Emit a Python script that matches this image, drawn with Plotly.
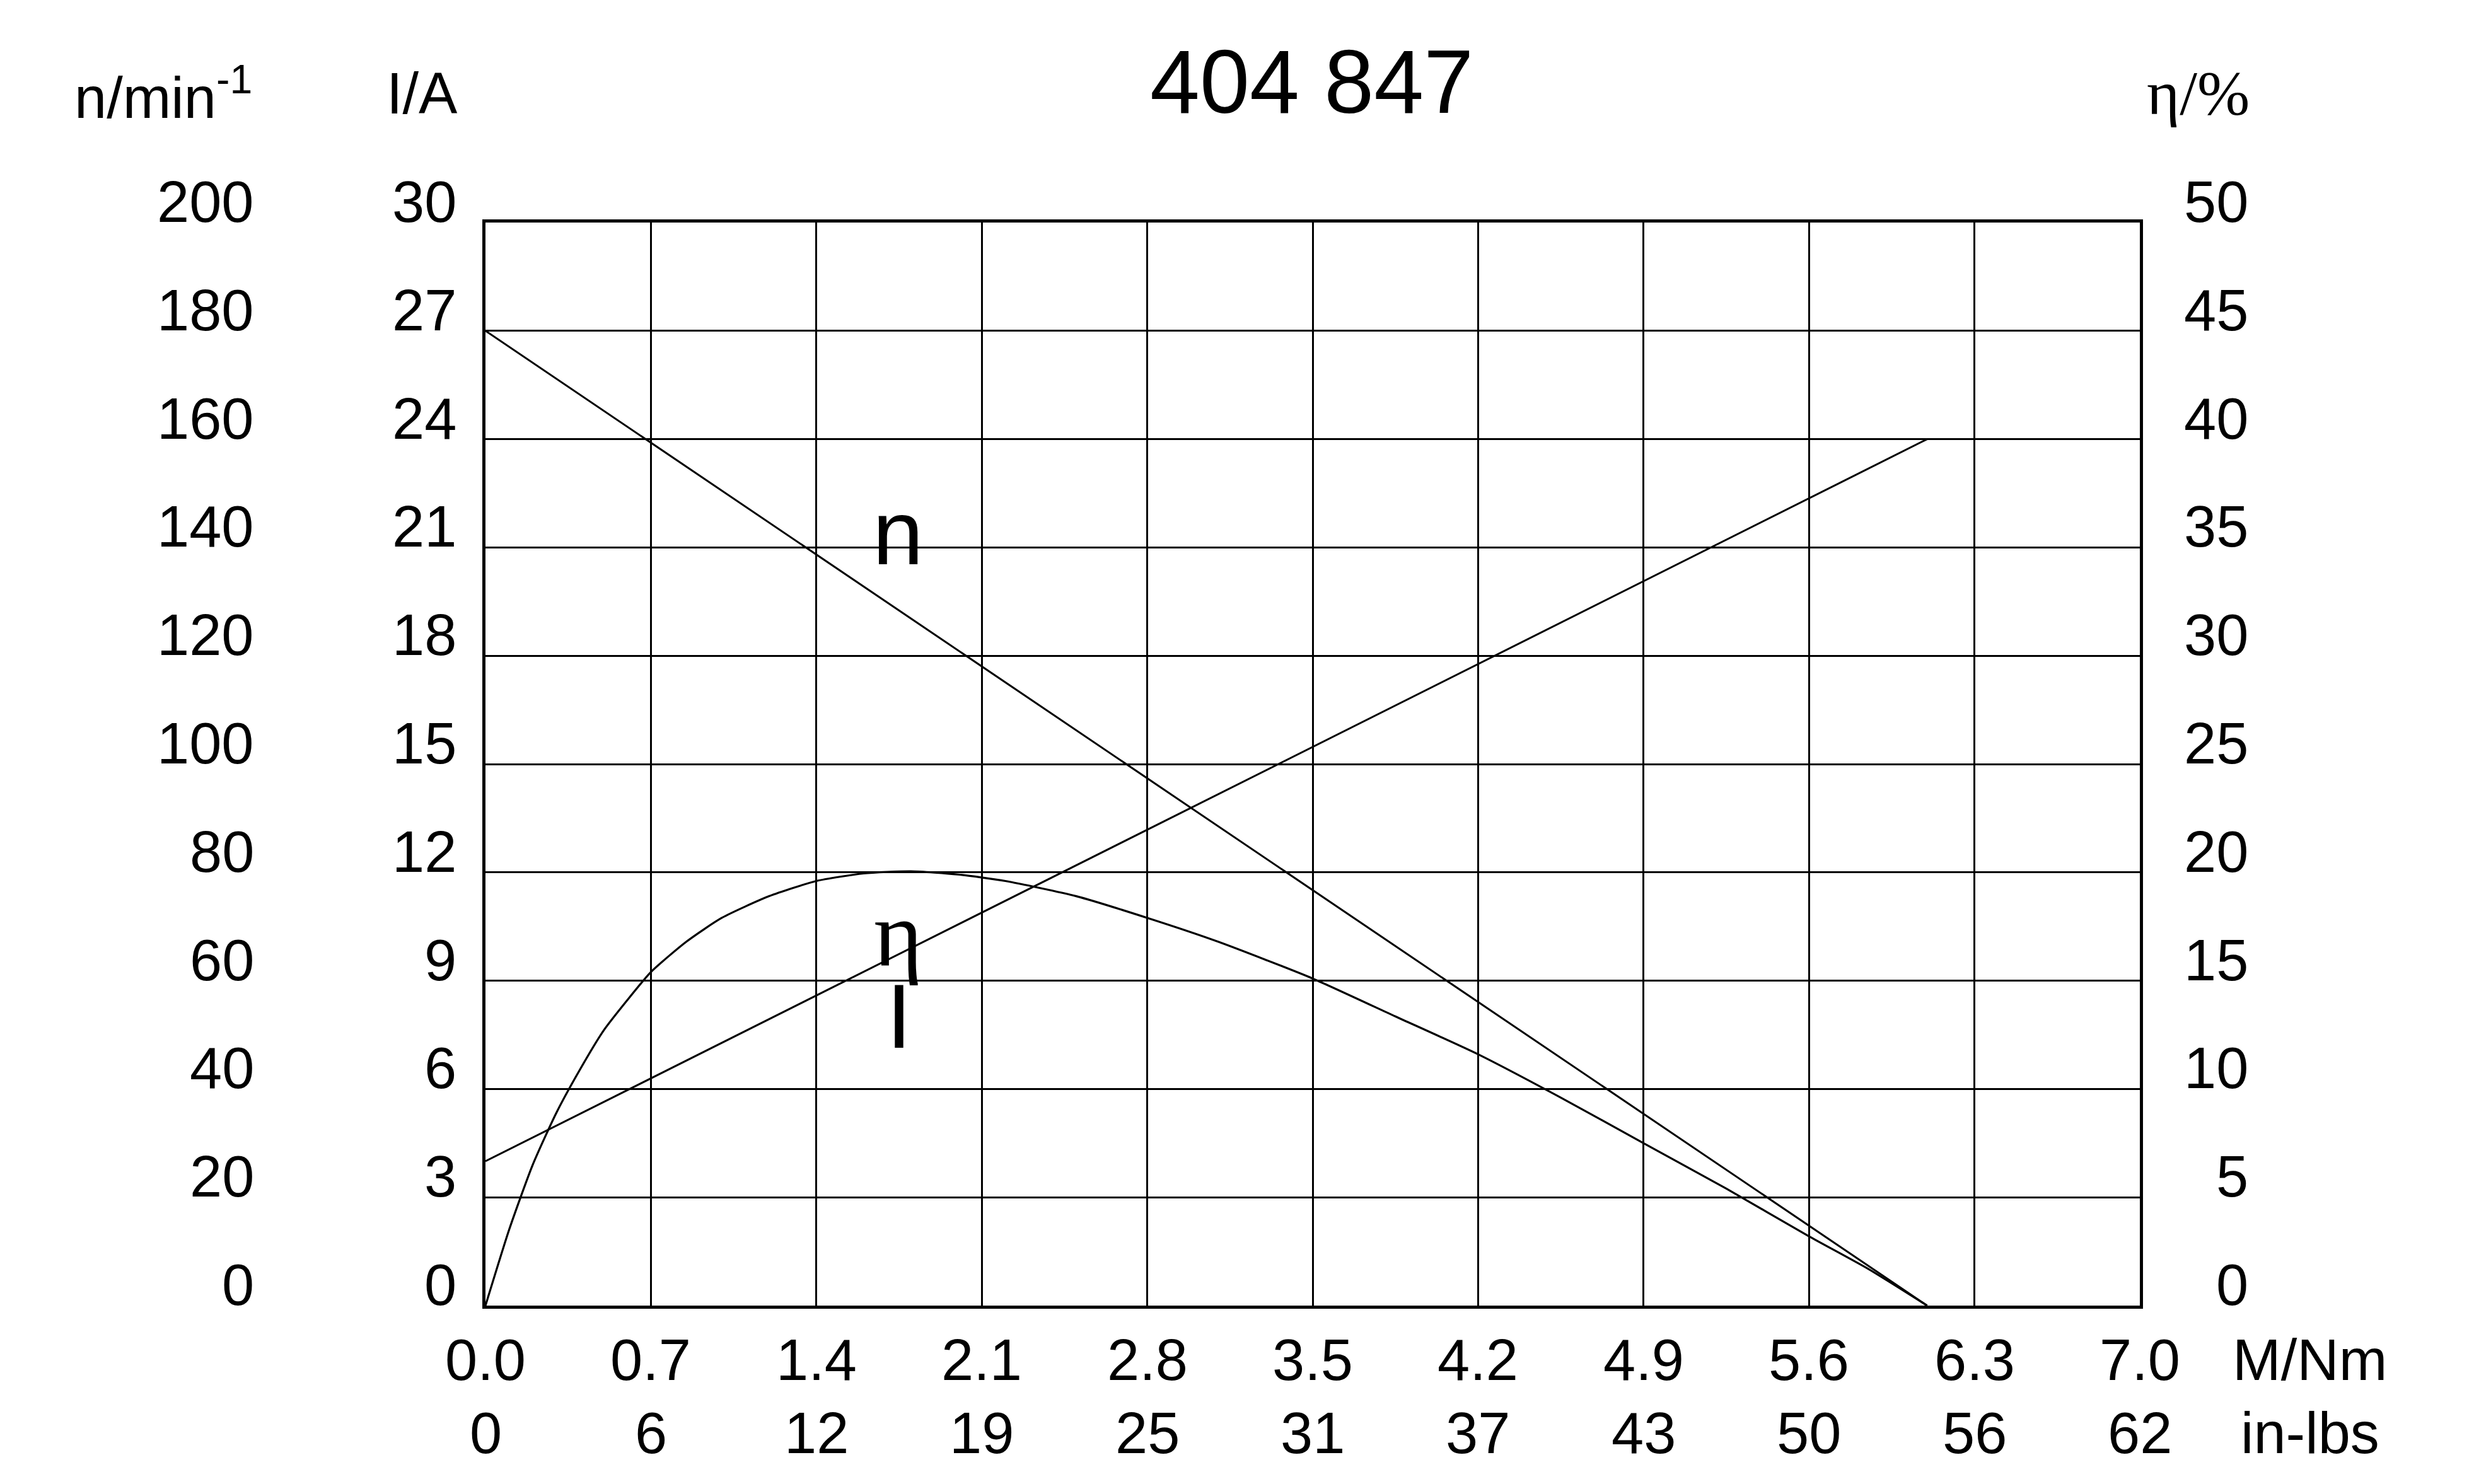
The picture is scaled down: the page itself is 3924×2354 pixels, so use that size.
import plotly.graph_objects as go

# ---- data ----
title_text = "404 847"
torque_ticks = [0.0, 0.7, 1.4, 2.1, 2.8, 3.5, 4.2, 4.9, 5.6, 6.3, 7.0]
torque_tick_labels = ["0.0", "0.7", "1.4", "2.1", "2.8", "3.5", "4.2", "4.9", "5.6", "6.3", "7.0"]
inlbs_tick_labels = ["0", "6", "12", "19", "25", "31", "37", "43", "50", "56", "62"]
speed_ticks = [0, 20, 40, 60, 80, 100, 120, 140, 160, 180, 200]
current_ticks = [0, 3, 6, 9, 12, 15, 18, 21, 24, 27, 30]
eff_ticks = [0, 5, 10, 15, 20, 25, 30, 35, 40, 45, 50]

# speed n (1/min) vs torque
n_torque = [0.0, 6.1]
n_speed = [180, 0]
# current I (A) vs torque
i_torque = [0.0, 6.1]
i_current = [4.0, 24.0]
# efficiency eta (%) vs torque
eta_torque = [0.0, 0.1, 0.2, 0.3, 0.4, 0.5, 0.6, 0.7, 0.85, 1.0, 1.2, 1.4, 1.6, 1.8,
              2.0, 2.2, 2.5, 2.8, 3.1, 3.5, 3.85, 4.2, 4.55, 4.9, 5.25, 5.6, 5.85, 6.1]
eta_values = [0.0, 3.5, 6.5, 8.9, 10.9, 12.7, 14.1, 15.4, 16.8, 17.9, 18.9, 19.6, 19.95, 20.05,
              19.9, 19.6, 18.9, 17.9, 16.8, 15.1, 13.35, 11.6, 9.6, 7.5, 5.4, 3.2, 1.7, 0.0]

# ---- figure geometry (page pixels; the page body has a small default margin) ----
OFF = 6
PW, PH = 3924, 2354
W, H = PW - OFF, PH - OFF
plot_left, plot_right, plot_top, plot_bottom = 768, 3392, 351, 2069
L = plot_left - OFF
T = plot_top - OFF
R = W - (plot_right - OFF)
B = H - (plot_bottom - OFF)
plot_w = plot_right - plot_left
plot_h = plot_bottom - plot_top

SANS = "Liberation Sans, Arial, sans-serif"
SERIF = "Liberation Serif, Times New Roman, serif"
TICK_F = 92
line = dict(color="black", width=3)

fig = go.Figure()
fig.add_trace(go.Scatter(x=n_torque, y=n_speed, mode="lines", line=line, yaxis="y2", showlegend=False))
fig.add_trace(go.Scatter(x=i_torque, y=i_current, mode="lines", line=line, yaxis="y", showlegend=False))
fig.add_trace(go.Scatter(x=eta_torque, y=eta_values, mode="lines",
                         line=dict(color="black", width=3.2, shape="spline", smoothing=0.6),
                         yaxis="y3", showlegend=False))

def px_to_paper_x(px):
    return (px - plot_left) / plot_w

def px_to_paper_y(py):
    return (plot_bottom - py) / plot_h

def txt(**kw):
    d = dict(showarrow=False)
    d.update(kw)
    return d

ann = []
# x tick labels (two rows)
for v, t1, t2 in zip(torque_ticks, torque_tick_labels, inlbs_tick_labels):
    ann.append(txt(x=v, xref="x", y=px_to_paper_y(2155), yref="paper", text=t1,
                   xanchor="center", yanchor="middle", font=dict(family=SANS, size=TICK_F, color="black")))
    ann.append(txt(x=v, xref="x", y=px_to_paper_y(2271), yref="paper", text=t2,
                   xanchor="center", yanchor="middle", font=dict(family=SANS, size=TICK_F, color="black")))
ann.append(txt(x=px_to_paper_x(3662), xref="paper", y=px_to_paper_y(2155), yref="paper", text="M/Nm",
               xanchor="center", yanchor="middle", font=dict(family=SANS, size=TICK_F, color="black")))
ann.append(txt(x=px_to_paper_x(3662), xref="paper", y=px_to_paper_y(2271), yref="paper", text="in-lbs",
               xanchor="center", yanchor="middle", font=dict(family=SANS, size=TICK_F, color="black")))

# y tick labels (baseline on the grid line)
for v in speed_ticks:
    ann.append(txt(x=px_to_paper_x(403), xref="paper", y=v, yref="y2", text=str(v),
                   xanchor="right", yanchor="middle", yshift=33, font=dict(family=SANS, size=TICK_F, color="black")))
for v in current_ticks:
    ann.append(txt(x=px_to_paper_x(724), xref="paper", y=v, yref="y", text=str(v),
                   xanchor="right", yanchor="middle", yshift=33, font=dict(family=SANS, size=TICK_F, color="black")))
for v in eff_ticks:
    ann.append(txt(x=px_to_paper_x(3566), xref="paper", y=v, yref="y3", text=str(v),
                   xanchor="right", yanchor="middle", yshift=33, font=dict(family=SANS, size=TICK_F, color="black")))

# axis headers
ann.append(txt(x=px_to_paper_x(400), xref="paper", y=px_to_paper_y(146), yref="paper", text="n/min<sup>-1</sup>",
               xanchor="right", yanchor="middle", font=dict(family=SANS, size=TICK_F, color="black")))
ann.append(txt(x=px_to_paper_x(726), xref="paper", y=px_to_paper_y(146), yref="paper", text="I/A",
               xanchor="right", yanchor="middle", font=dict(family=SANS, size=TICK_F, color="black")))
ann.append(txt(x=px_to_paper_x(3568), xref="paper", y=px_to_paper_y(146), yref="paper", text="η/%",
               xanchor="right", yanchor="middle", font=dict(family=SERIF, size=100, color="black")))
# title
ann.append(txt(x=px_to_paper_x(2078), xref="paper", y=px_to_paper_y(128), yref="paper", text=title_text,
               xanchor="center", yanchor="middle", font=dict(family=SANS, size=142, color="black")))

# curve labels
ann.append(txt(x=1.745, xref="x", y=21.4, yref="y", text="n", xanchor="center", yanchor="middle",
               font=dict(family=SANS, size=145, color="black")))
ann.append(txt(x=1.745, xref="x", y=10.3, yref="y", text="η", xanchor="center", yanchor="middle",
               font=dict(family=SERIF, size=148, color="black")))
ann.append(txt(x=1.75, xref="x", y=8.0, yref="y", text="I", xanchor="center", yanchor="middle",
               font=dict(family=SANS, size=144, color="black")))

grid = dict(showgrid=True, gridcolor="black", gridwidth=2.5, zeroline=False, showticklabels=False, ticks="")
fig.update_layout(
    width=W, height=H,
    margin=dict(l=L, r=R, t=T, b=B, pad=0),
    paper_bgcolor="white", plot_bgcolor="white",
    showlegend=False,
    xaxis=dict(range=[0, 7], tickvals=torque_ticks, showline=True, mirror=True, linecolor="black",
               linewidth=4.5, **grid),
    yaxis=dict(range=[0, 30], tickvals=current_ticks, showline=True, mirror=True, linecolor="black",
               linewidth=4.5, **grid),
    yaxis2=dict(range=[0, 200], overlaying="y", visible=False),
    yaxis3=dict(range=[0, 50], overlaying="y", visible=False),
    annotations=ann,
)

fig.write_html("out.html")
